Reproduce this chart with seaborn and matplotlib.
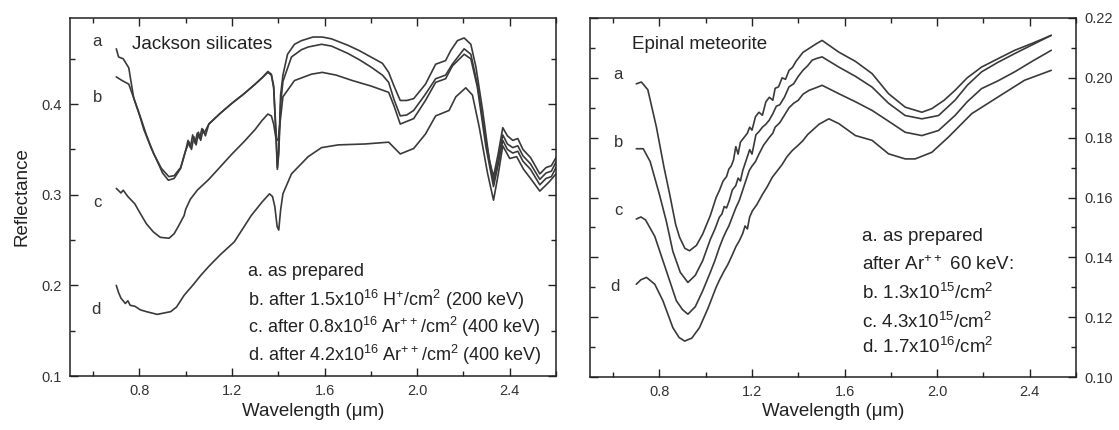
import numpy as np
import pandas as pd
import matplotlib
matplotlib.use("Agg")
import matplotlib.pyplot as plt
from matplotlib.ticker import MultipleLocator, FixedLocator
import seaborn as sns

# ---------------- data: Jackson silicates (left) ----------------
js_a_x = [0.70, 0.71, 0.73, 0.754, 0.775, 0.80, 0.819, 0.85, 0.877, 0.90, 0.925, 0.95, 0.978, 1.0, 1.01, 1.02,
          1.03, 1.04, 1.05, 1.06, 1.07, 1.08,
          1.10, 1.15, 1.20, 1.25, 1.30, 1.33, 1.355, 1.37, 1.38, 1.39, 1.396, 1.402, 1.41, 1.42, 1.44,
          1.47, 1.50, 1.55, 1.59, 1.63, 1.70, 1.75, 1.80, 1.85, 1.877, 1.90, 1.927, 1.955, 1.985, 2.036,
          2.08, 2.123, 2.145, 2.174, 2.203, 2.232, 2.254, 2.283, 2.312, 2.33, 2.35, 2.37, 2.39, 2.413,
          2.435, 2.457, 2.49, 2.53, 2.557, 2.58, 2.60]
js_a_y = [0.461, 0.452, 0.450, 0.440, 0.407, 0.388, 0.372, 0.352, 0.337, 0.324, 0.316, 0.318, 0.329, 0.349, 0.360, 0.352,
          0.366, 0.357, 0.368, 0.362, 0.373, 0.368,
          0.378, 0.390, 0.401, 0.411, 0.422, 0.429, 0.436, 0.433, 0.420, 0.370, 0.330, 0.350, 0.410, 0.432, 0.455,
          0.466, 0.470, 0.474, 0.474, 0.472, 0.465, 0.459, 0.452, 0.445, 0.435, 0.420, 0.404, 0.404, 0.406, 0.422,
          0.444, 0.448, 0.459, 0.470, 0.473, 0.466, 0.441, 0.393, 0.338, 0.320, 0.345, 0.374, 0.365, 0.360,
          0.362, 0.350, 0.341, 0.323, 0.330, 0.332, 0.341]

js_b_x = [0.70, 0.725, 0.754, 0.775, 0.804, 0.83, 0.862, 0.895, 0.927, 0.95, 0.978, 1.0, 1.015, 1.025, 1.035,
          1.045, 1.055, 1.065, 1.075, 1.085,
          1.10, 1.15, 1.20, 1.25, 1.30, 1.33, 1.355, 1.37, 1.38, 1.39, 1.396, 1.402, 1.41, 1.42, 1.457,
          1.50, 1.529, 1.587, 1.63, 1.70, 1.75, 1.80, 1.85, 1.877, 1.90, 1.927, 1.955, 1.985, 2.036,
          2.08, 2.123, 2.152, 2.203, 2.232, 2.26, 2.297, 2.33, 2.35, 2.37, 2.39, 2.413,
          2.435, 2.457, 2.49, 2.53, 2.557, 2.58, 2.60]
js_b_y = [0.430, 0.426, 0.422, 0.407, 0.386, 0.366, 0.345, 0.329, 0.320, 0.321, 0.330, 0.349, 0.358, 0.350,
          0.364, 0.355, 0.369, 0.360, 0.372, 0.365,
          0.378, 0.390, 0.401, 0.411, 0.422, 0.429, 0.435, 0.432, 0.418, 0.365, 0.328, 0.345, 0.400, 0.425, 0.452,
          0.460, 0.463, 0.466, 0.464, 0.456, 0.449, 0.441, 0.432, 0.424, 0.405, 0.387, 0.388, 0.393, 0.411,
          0.428, 0.432, 0.444, 0.461, 0.455, 0.422, 0.360, 0.314, 0.338, 0.366, 0.356, 0.352,
          0.354, 0.343, 0.334, 0.317, 0.324, 0.326, 0.336]

js_c_x = [0.70, 0.72, 0.73, 0.75, 0.78, 0.80, 0.83, 0.86, 0.89, 0.928, 0.95, 0.97, 0.993, 1.0, 1.02,
          1.05, 1.10, 1.15, 1.20, 1.25, 1.30, 1.33, 1.355, 1.37, 1.38, 1.39, 1.399, 1.41, 1.42, 1.47,
          1.543, 1.59, 1.65, 1.72, 1.80, 1.877, 1.90, 1.927, 1.985, 2.036, 2.08, 2.123, 2.152, 2.203,
          2.232, 2.26, 2.297, 2.33, 2.35, 2.37, 2.39, 2.413, 2.435, 2.457, 2.49, 2.53, 2.557, 2.58, 2.60]
js_c_y = [0.307, 0.302, 0.305, 0.298, 0.290, 0.281, 0.268, 0.259, 0.253, 0.252, 0.257, 0.266, 0.277, 0.284, 0.295,
          0.305, 0.317, 0.331, 0.345, 0.358, 0.372, 0.382, 0.389, 0.387, 0.378, 0.362, 0.360, 0.385, 0.408, 0.426,
          0.433, 0.435, 0.432, 0.426, 0.420, 0.413, 0.398, 0.378, 0.384, 0.404, 0.424, 0.428, 0.442, 0.455,
          0.450, 0.419, 0.353, 0.309, 0.333, 0.360, 0.350, 0.346, 0.348, 0.337, 0.328, 0.311, 0.318, 0.320, 0.330]

js_d_x = [0.70, 0.71, 0.72, 0.739, 0.75, 0.76, 0.78, 0.804, 0.83, 0.877, 0.935, 0.96, 0.993, 1.03, 1.065,
          1.10, 1.15, 1.21, 1.283, 1.33, 1.362, 1.375, 1.385, 1.395, 1.402, 1.41, 1.42, 1.457, 1.529,
          1.587, 1.659, 1.775, 1.877, 1.927, 1.985, 2.036, 2.08, 2.138, 2.167, 2.21, 2.239, 2.268,
          2.304, 2.33, 2.35, 2.37, 2.40, 2.43, 2.46, 2.49, 2.53, 2.57, 2.60]
js_d_y = [0.200, 0.192, 0.186, 0.180, 0.183, 0.178, 0.177, 0.173, 0.171, 0.168, 0.171, 0.176, 0.189, 0.200, 0.211,
          0.221, 0.234, 0.248, 0.277, 0.292, 0.301, 0.298, 0.287, 0.265, 0.261, 0.283, 0.301, 0.323, 0.342,
          0.352, 0.355, 0.356, 0.358, 0.345, 0.351, 0.367, 0.387, 0.393, 0.408, 0.418, 0.410, 0.375,
          0.324, 0.294, 0.322, 0.354, 0.340, 0.342, 0.328, 0.318, 0.304, 0.314, 0.323]

# ---------------- data: Epinal meteorite (right) ----------------
ep_a_x = [0.70, 0.722, 0.75, 0.787, 0.82, 0.844, 0.87, 0.887, 0.91, 0.93, 0.96, 0.987, 1.02, 1.045, 1.06,
          1.075, 1.09, 1.10, 1.11, 1.12, 1.13, 1.14, 1.15, 1.165, 1.18, 1.19, 1.20, 1.215, 1.23, 1.245,
          1.26, 1.275, 1.29, 1.30, 1.315, 1.33, 1.345, 1.36, 1.375, 1.39, 1.405, 1.42, 1.44, 1.46, 1.48,
          1.503, 1.575, 1.647, 1.719, 1.79, 1.862, 1.934, 1.977, 2.03, 2.077, 2.13, 2.192, 2.263, 2.335,
          2.41, 2.493]
ep_a_y = [0.198, 0.1986, 0.196, 0.1835, 0.170, 0.1612, 0.151, 0.1467, 0.143, 0.1422, 0.144, 0.1478, 0.154, 0.160, 0.1625,
          0.1655, 0.167, 0.1695, 0.1705, 0.1725, 0.177, 0.1745, 0.1785, 0.180, 0.1815, 0.1835, 0.1825, 0.187, 0.1885, 0.1875,
          0.192, 0.1935, 0.1925, 0.1965, 0.197, 0.200, 0.1995, 0.2025, 0.2035, 0.2055, 0.207, 0.2085, 0.2095, 0.2105, 0.2115,
          0.2125, 0.2086, 0.2055, 0.2014, 0.1947, 0.1902, 0.1885, 0.1897, 0.1925, 0.1958, 0.2000, 0.2036, 0.2064, 0.2092,
          0.2115, 0.2142]

ep_b_x = [0.70, 0.73, 0.76, 0.80, 0.83, 0.858, 0.89, 0.923, 0.955, 0.987, 1.02, 1.04, 1.059, 1.07, 1.08,
          1.09, 1.102, 1.115, 1.13, 1.14, 1.15, 1.16, 1.175, 1.19, 1.20, 1.217, 1.23, 1.245, 1.26, 1.274,
          1.29, 1.305, 1.32, 1.34, 1.36, 1.38, 1.40, 1.42, 1.44, 1.46, 1.48, 1.503, 1.575, 1.647, 1.719,
          1.79, 1.862, 1.934, 2.006, 2.077, 2.13, 2.192, 2.263, 2.335, 2.41, 2.493]
ep_b_y = [0.1763, 0.1763, 0.172, 0.161, 0.152, 0.142, 0.135, 0.1316, 0.134, 0.1389, 0.146, 0.1495, 0.1534, 0.1545, 0.157,
          0.1565, 0.159, 0.1625, 0.164, 0.1665, 0.1655, 0.169, 0.1725, 0.176, 0.1745, 0.181, 0.182, 0.1835, 0.1845, 0.1858,
          0.188, 0.1905, 0.191, 0.1935, 0.197, 0.198, 0.2005, 0.2025, 0.204, 0.2059, 0.2065, 0.207, 0.2036, 0.2005, 0.1969,
          0.1915, 0.1874, 0.1863, 0.1874, 0.1925, 0.1975, 0.2020, 0.2052, 0.2081, 0.2110, 0.2142]

ep_c_x = [0.70, 0.72, 0.74, 0.78, 0.815, 0.845, 0.873, 0.90, 0.923, 0.955, 0.987, 1.02, 1.04, 1.059, 1.075,
          1.09, 1.10, 1.115, 1.131, 1.145, 1.16, 1.175, 1.188, 1.20, 1.215, 1.23, 1.25, 1.274, 1.29, 1.30,
          1.32, 1.34, 1.36, 1.38, 1.40, 1.42, 1.446, 1.47, 1.503, 1.575, 1.647, 1.719, 1.79, 1.862, 1.934,
          2.006, 2.077, 2.13, 2.192, 2.263, 2.335, 2.41, 2.493]
ep_c_y = [0.1528, 0.1535, 0.1525, 0.147, 0.1389, 0.132, 0.1255, 0.1225, 0.121, 0.1235, 0.1288, 0.135, 0.139, 0.1433, 0.1465,
          0.149, 0.1505, 0.1535, 0.1567, 0.159, 0.1625, 0.166, 0.169, 0.1705, 0.172, 0.1745, 0.1775, 0.180, 0.1815, 0.1835,
          0.185, 0.1875, 0.190, 0.1915, 0.1925, 0.1945, 0.1958, 0.1965, 0.1975, 0.1947, 0.1920, 0.1891, 0.1855, 0.1818, 0.1807,
          0.1824, 0.1874, 0.1920, 0.1964, 0.1990, 0.2020, 0.2055, 0.2092]

ep_d_x = [0.70, 0.72, 0.744, 0.78, 0.815, 0.858, 0.885, 0.909, 0.94, 0.973, 1.01, 1.03, 1.045, 1.06, 1.08,
          1.095, 1.116, 1.13, 1.145, 1.16, 1.17, 1.18, 1.19, 1.202, 1.22, 1.245, 1.265, 1.288, 1.31, 1.33,
          1.35, 1.374, 1.40, 1.42, 1.44, 1.46, 1.49, 1.532, 1.575, 1.647, 1.719, 1.79, 1.862, 1.905,
          1.977, 2.049, 2.149, 2.263, 2.378, 2.493]
ep_d_y = [0.131, 0.1325, 0.1333, 0.131, 0.1255, 0.1165, 0.1132, 0.112, 0.113, 0.1165, 0.123, 0.127, 0.130, 0.1325, 0.1355,
          0.1375, 0.141, 0.1435, 0.1455, 0.148, 0.1505, 0.1495, 0.1535, 0.1556, 0.1575, 0.161, 0.1635, 0.1668, 0.169, 0.171,
          0.1735, 0.1757, 0.1775, 0.179, 0.181, 0.1824, 0.1845, 0.1863, 0.1847, 0.1807, 0.1791, 0.1746, 0.1729, 0.1729,
          0.1751, 0.1802, 0.1880, 0.1936, 0.1992, 0.2025]

curve_labels = ["a", "b", "c", "d"]
x_tick_labels = ["0.8", "1.2", "1.6", "2.0", "2.4"]
x_ticks = [0.8, 1.2, 1.6, 2.0, 2.4]

js_legend = ["a. as prepared",
             "b. after 1.5x10$^{16}$ H$^{+}$/cm$^{2}$ (200 keV)",
             "c. after 0.8x10$^{16}$ Ar$^{++}$/cm$^{2}$ (400 keV)",
             "d. after 4.2x10$^{16}$ Ar$^{++}$/cm$^{2}$ (400 keV)"]
ep_legend = ["a. as prepared",
             "after Ar$^{++}$ 60 keV:",
             "b. 1.3x10$^{15}$/cm$^{2}$",
             "c. 4.3x10$^{15}$/cm$^{2}$",
             "d. 1.7x10$^{16}$/cm$^{2}$"]

# ---------------- style ----------------
sns.set_style("ticks")
plt.rcParams['font.family'] = ['Liberation Sans', 'DejaVu Sans']
plt.rcParams['mathtext.default'] = 'regular'
plt.rcParams['mathtext.fontset'] = 'custom'
plt.rcParams['mathtext.rm'] = 'Liberation Sans'

line_col = "#3a3a3a"
txt_col = "#333333"

fig = plt.figure(figsize=(11.19, 4.30), dpi=100)
axL = fig.add_axes([70/1119, 1-376/430, 486/1119, 358/430])
axR = fig.add_axes([590/1119, 1-377/430, 486/1119, 359/430])

def draw(ax, xs, ys):
    df = pd.DataFrame({"w": xs, "r": ys})
    sns.lineplot(data=df, x="w", y="r", ax=ax, color=line_col, lw=1.2,
                 estimator=None, sort=False)

for xs, ys in [(js_a_x, js_a_y), (js_b_x, js_b_y), (js_c_x, js_c_y), (js_d_x, js_d_y)]:
    draw(axL, xs, ys)
for xs, ys in [(ep_a_x, ep_a_y), (ep_b_x, ep_b_y), (ep_c_x, ep_c_y), (ep_d_x, ep_d_y)]:
    draw(axR, xs, ys)

def style_axes(ax):
    for s in ax.spines.values():
        s.set_visible(True)
        s.set_linewidth(1.1)
        s.set_color("#222222")
    ax.set_xlim(0.5, 2.6)
    ax.xaxis.set_major_locator(FixedLocator(x_ticks))
    ax.set_xticklabels(x_tick_labels)
    ax.xaxis.set_minor_locator(MultipleLocator(0.2))
    ax.tick_params(which="both", direction="in", top=True, bottom=True, left=True, right=True,
                   color="#222222", width=1.0)
    ax.tick_params(which="major", length=6, labelsize=10.5, labelcolor=txt_col, pad=6)
    ax.tick_params(which="minor", length=3.5)
    ax.set_xlabel("Wavelength (\u03bcm)", fontsize=13.5, color="#222222", labelpad=3)
    ax.grid(False)

style_axes(axL)
axL.set_ylim(0.1, 0.495)
axL.yaxis.set_major_locator(FixedLocator([0.1, 0.2, 0.3, 0.4]))
axL.yaxis.set_minor_locator(MultipleLocator(0.05))
axL.set_ylabel("Reflectance", fontsize=13.5, color="#222222", labelpad=8)

style_axes(axR)
axR.set_ylim(0.10, 0.22)
axR.yaxis.set_major_locator(MultipleLocator(0.02))
axR.yaxis.set_minor_locator(MultipleLocator(0.01))
axR.yaxis.tick_right()
axR.yaxis.set_label_position("right")
axR.tick_params(which="both", left=True, right=True, labelleft=False, labelright=True)
axR.set_yticklabels([f"{v:.2f}" for v in axR.get_yticks()])
axR.set_ylabel("")

# curve letters and titles
for lab, (xf, yf) in zip(curve_labels, [(0.056, 0.933), (0.056, 0.779), (0.056, 0.486), (0.053, 0.187)]):
    axL.text(xf, yf, lab, transform=axL.transAxes, ha="center", va="center", fontsize=12, color=txt_col)
axL.text(0.128, 0.925, "Jackson silicates", transform=axL.transAxes, ha="left", va="center",
         fontsize=13.5, color="#222222")
for i, t in enumerate(js_legend):
    axL.text(0.366, [0.291, 0.212, 0.137, 0.059][i], t, transform=axL.transAxes, ha="left", va="center",
             fontsize=13, color="#222222")

for lab, (xf, yf) in zip(curve_labels, [(0.058, 0.844), (0.058, 0.652), (0.058, 0.465), (0.051, 0.251)]):
    axR.text(xf, yf, lab, transform=axR.transAxes, ha="center", va="center", fontsize=12, color=txt_col)
axR.text(0.086, 0.925, "Epinal meteorite", transform=axR.transAxes, ha="left", va="center",
         fontsize=13.5, color="#222222")
for i, t in enumerate(ep_legend):
    axR.text(0.56, [0.39, 0.312, 0.234, 0.153, 0.084][i], t, transform=axR.transAxes, ha="left", va="center",
             fontsize=13.5, color="#222222")

fig.savefig("out.png", dpi=100)
